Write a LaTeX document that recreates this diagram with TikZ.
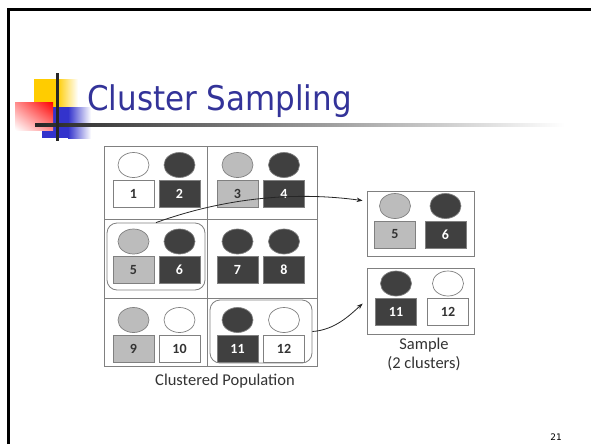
\documentclass[tikz,border=0pt]{standalone}
\usepackage{fontspec}
\setmainfont{Carlito}
\newfontfamily\titlefont[FakeStretch=0.91]{DejaVu Sans}
\newfontfamily\pagefont{DejaVu Sans}
\usetikzlibrary{arrows.meta,calc,shapes.geometric,shadings}
\definecolor{titleblue}{RGB}{51,51,153}
\definecolor{darkfill}{RGB}{64,64,64}
\definecolor{grayfill}{RGB}{188,188,188}
\definecolor{edgegray}{RGB}{128,128,128}
\definecolor{ornyellow}{RGB}{255,204,0}
\definecolor{ornblue}{RGB}{51,51,204}
\definecolor{ornred}{RGB}{255,0,0}
\tikzset{
  head/.style={draw=edgegray,line width=0.7pt,ellipse,minimum width=31pt,minimum height=25pt,inner sep=0pt},
  tag/.style={draw=edgegray,line width=0.7pt,minimum width=41pt,minimum height=27pt,inner sep=0pt,
              font=\fontsize{14}{16}\selectfont\bfseries},
  pwhite/.style={fill=white,text=black!80},
  pgray/.style={fill=grayfill,text=black!80},
  pdark/.style={fill=darkfill,text=white},
  cellline/.style={draw=edgegray,line width=0.8pt},
  cluster/.style={draw=edgegray,line width=0.8pt,rounded corners=10pt},
  framebox/.style={draw=edgegray,line width=0.8pt},
  caption/.style={font=\fontsize{16.5}{18.5}\selectfont,text=black!80,align=center},
  pick/.style={-{Stealth[length=6pt,width=4.5pt]},line width=0.8pt,black!85}
}
% one person: a head above a numbered tag
\newcommand{\person}[5]{% name, x, y of tag centre, style, label
  \node[head,#4] (#1h) at (#2,#3-28.5) {};
  \node[tag,#4] (#1) at (#2,#3) {#5};
}
\begin{document}
\begin{tikzpicture}[x=1pt,y=-1pt]
\useasboundingbox (0,0) rectangle (591,444);
\fill[white] (0,0) rectangle (591,444);

% slide frame
\draw[line width=3pt] (8.5,444) -- (8.5,9.5) -- (591,9.5);

% title ornament
\fill[ornyellow] (34,79) rectangle (57,107);
\shade[left color=ornyellow,right color=white] (57,79) rectangle (78,107);
\fill[ornblue] (42,107) rectangle (68,138);
\shade[left color=ornblue,right color=white] (68,107) rectangle (91,138);
\shade[upper right=ornred,upper left=ornred!45,lower right=ornred!45,lower left=white] (15,102) rectangle (53,130);
\shade[left color=black!85,right color=white] (35,123) rectangle (565,126);
\fill[black!85] (55.5,73) rectangle (58.5,141);

\node[anchor=base west,inner sep=0pt,text=titleblue,font=\titlefont\fontsize{34}{40}\selectfont] (title) at (87,110) {Cluster Sampling};

% clustered population grid
\draw[cellline] (104,146) rectangle (317,366);
\draw[cellline] (207,146) -- (207,366);
\draw[cellline] (104,219) -- (317,219);
\draw[cellline] (104,298) -- (317,298);

\person{p1}{133.5}{193.5}{pwhite}{1}
\person{p2}{179.5}{193.5}{pdark}{2}
\person{p3}{237.5}{193.5}{pgray}{3}
\person{p4}{284}{193.5}{pdark}{4}
\person{p5}{133.5}{270}{pgray}{5}
\person{p6}{179.5}{270}{pdark}{6}
\person{p7}{237.5}{270}{pdark}{7}
\person{p8}{284}{270}{pdark}{8}
\person{p9}{133.5}{348.5}{pgray}{9}
\person{p10}{179.5}{348.5}{pwhite}{10}
\person{p11}{237.5}{348.5}{pdark}{11}
\person{p12}{284}{348.5}{pwhite}{12}

% the two chosen clusters
\node[cluster,minimum width=98pt,minimum height=67pt] (c56) at (156,256.5) {};
\node[cluster,minimum width=102pt,minimum height=63pt] (c1112) at (261,331.5) {};

\node[caption] (poplabel) at (225,381) {Clustered Population};

% sample
\node[framebox,minimum width=107pt,minimum height=65pt] (sA) at (420.5,223.5) {};
\node[framebox,minimum width=107pt,minimum height=66pt] (sB) at (420.5,301) {};
\person{s5}{395}{234.5}{pgray}{5}
\person{s6}{445.5}{234.5}{pdark}{6}
\person{s11}{396}{312}{pdark}{11}
\person{s12}{448}{312}{pwhite}{12}

\node[caption] (samplabel) at (424,354.5) {Sample\\(2 clusters)};

% selection arrows
\coordinate (tipA) at ($(sA.north west)+(-4,10)$);
\coordinate (tipB) at ($(sB.north west)+(-4,36)$);
\draw[pick] (c56.north) .. controls (230,196) and (300,192) .. (tipA);
\draw[pick] (c1112.east) .. controls (335,330) and (350,315) .. (tipB);

\node[font=\pagefont\fontsize{9}{10}\selectfont] (pagenum) at (556,437) {21};
\end{tikzpicture}
\end{document}
